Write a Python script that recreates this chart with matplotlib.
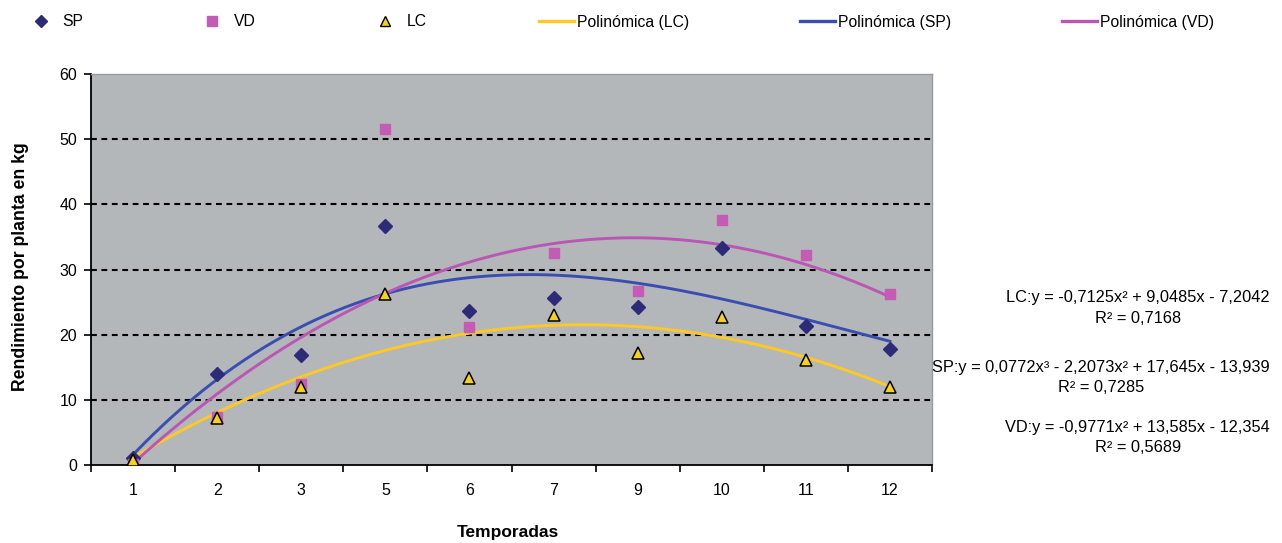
import matplotlib
matplotlib.use("Agg")
import matplotlib.pyplot as plt
import numpy as np
from matplotlib.lines import Line2D

plt.rcParams['font.family'] = ['Liberation Sans', 'DejaVu Sans']

# ---- data ----
temporadas = ['1', '2', '3', '5', '6', '7', '9', '10', '11', '12']
sp = [1.0, 14.0, 16.9, 36.7, 23.6, 25.7, 24.3, 33.3, 21.3, 17.8]
vd = [0.2, 7.4, 12.5, 51.5, 21.1, 32.5, 26.7, 37.6, 32.2, 26.2]
lc = [0.8, 7.2, 12.0, 26.3, 13.4, 23.0, 17.2, 22.7, 16.1, 12.0]

# trendline coefficients as printed on the chart (highest power first)
coef_lc = [-0.7125, 9.0485, -7.2042]
coef_sp = [0.0772, -2.2073, 17.645, -13.939]
coef_vd = [-0.9771, 13.585, -12.354]

eq_lc = "LC:y = -0,7125x\u00b2 + 9,0485x - 7,2042\nR\u00b2 = 0,7168"
eq_sp = "SP:y = 0,0772x\u00b3 - 2,2073x\u00b2 + 17,645x - 13,939\nR\u00b2 = 0,7285"
eq_vd = "VD:y = -0,9771x\u00b2 + 13,585x - 12,354\nR\u00b2 = 0,5689"

y_ticks = [0, 10, 20, 30, 40, 50, 60]

# ---- style ----
c_bg = '#B4B7BA'
c_sp_m = '#2D2A78'
c_vd_m = '#C45BB4'
c_lc_m = '#F5D21A'
c_lc_l = '#FFC822'
c_sp_l = '#3A4EB2'
c_vd_l = '#BA57B4'

W, H = 1282, 543
fig = plt.figure(figsize=(W / 100, H / 100), dpi=100)
ax = fig.add_axes([91 / W, 1 - 465 / H, (932 - 91) / W, (465 - 74) / H])
ax.set_facecolor(c_bg)

n = len(temporadas)
pos = np.arange(1, n + 1)
xs = np.linspace(1, n, 300)

ax.plot(xs, np.polyval(coef_lc, xs), color=c_lc_l, lw=2.1, zorder=3)
ax.plot(xs, np.polyval(coef_sp, xs), color=c_sp_l, lw=2.1, zorder=3)
ax.plot(xs, np.polyval(coef_vd, xs), color=c_vd_l, lw=2.1, zorder=3)

ax.plot(pos, sp, linestyle='none', marker='D', ms=7, color=c_sp_m, zorder=4)
ax.plot(pos, vd, linestyle='none', marker='s', ms=7.5, color=c_vd_m, zorder=4)
ax.plot(pos, lc, linestyle='none', marker='^', ms=8, markerfacecolor=c_lc_m,
        markeredgecolor='black', markeredgewidth=1.1, zorder=5)

ax.set_xlim(0.5, n + 0.5)
ax.set_ylim(0, 60)
ax.set_yticks(y_ticks)
ax.set_yticklabels([str(v) for v in y_ticks], fontsize=11.5)
for v in y_ticks[1:-1]:
    ax.axhline(v, color='black', lw=1.5, ls=(0, (2.8, 2.2)), zorder=2)

ax.set_xticks(np.arange(0.5, n + 1, 1.0))
ax.set_xticklabels([])
ax.set_xticks(pos, minor=True)
ax.set_xticklabels(temporadas, minor=True, fontsize=11.5)
ax.tick_params(axis='x', which='major', direction='out', length=5, width=1.2)
ax.tick_params(axis='x', which='minor', length=0, pad=13)
ax.tick_params(axis='y', direction='out', length=5, width=1.2, pad=5)

for s in ['left', 'bottom']:
    ax.spines[s].set_color('black')
    ax.spines[s].set_linewidth(1.3)
for s in ['top', 'right']:
    ax.spines[s].set_color('#9A9A9A')
    ax.spines[s].set_linewidth(1.0)

fig.text(21 / W, 1 - 267 / H, 'Rendimiento por planta en kg', rotation=90,
         ha='center', va='center', fontsize=12.7, fontweight='bold')
fig.text(508 / W, 1 - 533 / H, 'Temporadas', ha='center', va='center',
         fontsize=12.5, fontweight='bold')

# equations
fig.text(1270 / W, 1 - 308 / H, eq_lc, ha='right', va='center',
         multialignment='center', fontsize=11.8, linespacing=1.45)
fig.text(1270 / W, 1 - 377.5 / H, eq_sp, ha='right', va='center',
         multialignment='center', fontsize=11.8, linespacing=1.45)
fig.text(1270 / W, 1 - 437.5 / H, eq_vd, ha='right', va='center',
         multialignment='center', fontsize=11.8, linespacing=1.45)

# legend entries placed individually
entries = [
    (Line2D([], [], ls='none', marker='D', ms=6, color=c_sp_m), 'SP', 24),
    (Line2D([], [], ls='none', marker='s', ms=6.5, color=c_vd_m), 'VD', 195),
    (Line2D([], [], ls='none', marker='^', ms=7, markerfacecolor=c_lc_m,
            markeredgecolor='black', markeredgewidth=1.0), 'LC', 368),
    (Line2D([], [], color=c_lc_l, lw=2.4), 'Polinómica (LC)', 539),
    (Line2D([], [], color=c_sp_l, lw=2.4), 'Polinómica (SP)', 800),
    (Line2D([], [], color=c_vd_l, lw=2.4), 'Polinómica (VD)', 1062),
]
for h, lab, x0 in entries:
    fig.legend([h], [lab], loc='center left', bbox_to_anchor=(x0 / W, 1 - 22 / H),
               frameon=False, borderpad=0, borderaxespad=0, handlelength=2.2,
               handletextpad=0.25, fontsize=11.3)

fig.savefig('out.png', dpi=100)
